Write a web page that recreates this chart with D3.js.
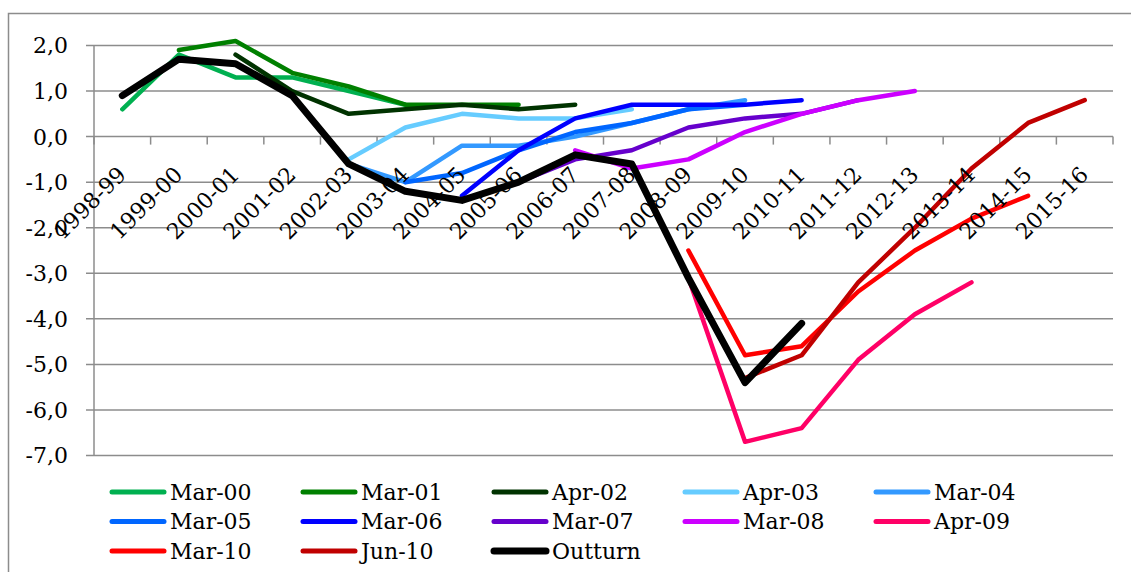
<!DOCTYPE html>
<html lang="en">
<head>
    <meta charset="UTF-8">
    <title>Forecasts vs outturn</title>
    <script src="https://d3js.org/d3.v7.min.js" charset="utf-8"></script>
    <style>
        body { margin: 0; background: white; }
        svg { font-family: 'DejaVu Serif', serif; }
    </style>
</head>
<body>
    <div id="chart"></div>
    <script>
        // x categories (fiscal years)
        var categories = ['1998-99', '1999-00', '2000-01', '2001-02', '2002-03', '2003-04', '2004-05', '2005-06', '2006-07',
            '2007-08', '2008-09', '2009-10', '2010-11', '2011-12', '2012-13', '2013-14', '2014-15', '2015-16'];
        var yTicks = [2, 1, 0, -1, -2, -3, -4, -5, -6, -7];

        // one array per forecast vintage, null where the vintage has no value
        var mar00 = [0.6, 1.8, 1.3, 1.3, 1.0, 0.7, null, null, null, null, null, null, null, null, null, null, null, null];
        var mar01 = [null, 1.9, 2.1, 1.4, 1.1, 0.7, 0.7, 0.7, null, null, null, null, null, null, null, null, null, null];
        var apr02 = [null, null, 1.8, 1.0, 0.5, 0.6, 0.7, 0.6, 0.7, null, null, null, null, null, null, null, null, null];
        var apr03 = [null, null, null, null, -0.5, 0.2, 0.5, 0.4, 0.4, 0.6, null, null, null, null, null, null, null, null];
        var mar04 = [null, null, null, null, -0.6, -1.0, -0.2, -0.2, 0.0, 0.3, 0.6, 0.8, null, null, null, null, null, null];
        var mar05 = [null, null, null, null, null, -1.0, -0.8, -0.3, 0.1, 0.3, 0.6, 0.7, null, null, null, null, null, null];
        var mar06 = [null, null, null, null, null, null, -1.3, -0.3, 0.4, 0.7, 0.7, 0.7, 0.8, null, null, null, null, null];
        var mar07 = [null, null, null, null, null, null, null, -1.0, -0.5, -0.3, 0.2, 0.4, 0.5, 0.8, null, null, null, null];
        var mar08 = [null, null, null, null, null, null, null, null, -0.3, -0.7, -0.5, 0.1, 0.5, 0.8, 1.0, null, null, null];
        var apr09 = [null, null, null, null, null, null, null, null, null, null, -3.1, -6.7, -6.4, -4.9, -3.9, -3.2, null, null];
        var mar10 = [null, null, null, null, null, null, null, null, null, null, -2.5, -4.8, -4.6, -3.4, -2.5, -1.8, -1.3, null];
        var jun10 = [null, null, null, null, null, null, null, null, null, null, null, -5.3, -4.8, -3.2, -2.0, -0.7, 0.3, 0.8];
        var outturn = [0.9, 1.7, 1.6, 0.9, -0.6, -1.2, -1.4, -1.0, -0.4, -0.6, -3.1, -5.4, -4.1, null, null, null, null, null];

        var seriesNames = ['Mar-00', 'Mar-01', 'Apr-02', 'Apr-03', 'Mar-04', 'Mar-05', 'Mar-06', 'Mar-07', 'Mar-08', 'Apr-09', 'Mar-10', 'Jun-10', 'Outturn'];
        var seriesValues = [mar00, mar01, apr02, apr03, mar04, mar05, mar06, mar07, mar08, apr09, mar10, jun10, outturn];
        var seriesColors = ['#00B050', '#008000', '#003300', '#66CCFF', '#3399FF', '#0066FF', '#0000FF', '#6600CC', '#CC00FF', '#FF0066', '#FF0000', '#C00000', '#000000'];

        var svgwidth = 1131;
        var svgheight = 572;
        // plot area edges (not "top": that name is taken by window.top)
        var plotLeft = 94, plotRight = 1113, plotTop = 45.5, plotBottom = 455.5;
        var gridColor = '#8c8c8c';

        var svg = d3.select('#chart').append('svg')
            .attr('width', svgwidth)
            .attr('height', svgheight);

        // outer chart border
        svg.append('rect')
            .attr('x', 8.5).attr('y', 13.5)
            .attr('width', svgwidth).attr('height', svgheight)
            .attr('fill', 'none')
            .attr('stroke', gridColor)
            .attr('stroke-width', 1.5);

        var x = d3.scaleBand().domain(categories).range([plotLeft, plotRight]).padding(0);
        var y = d3.scaleLinear().domain([-7, 2]).range([plotBottom, plotTop]);

        // horizontal gridlines + y ticks
        svg.append('g').selectAll('line')
            .data(yTicks)
            .enter().append('line')
            .attr('x1', plotLeft - 8).attr('x2', plotRight)
            .attr('y1', d => y(d)).attr('y2', d => y(d))
            .attr('stroke', gridColor)
            .attr('stroke-width', 1.5);

        // y axis line
        svg.append('line')
            .attr('x1', plotLeft).attr('x2', plotLeft)
            .attr('y1', plotTop).attr('y2', plotBottom)
            .attr('stroke', gridColor)
            .attr('stroke-width', 1.5);

        // y labels, decimal comma
        svg.append('g').selectAll('text')
            .data(yTicks)
            .enter().append('text')
            .attr('x', 68)
            .attr('y', d => y(d))
            .attr('dy', '0.36em')
            .attr('text-anchor', 'end')
            .style('font-size', '22px')
            .text(d => d3.format('.1f')(d).replace('.', ',').replace('−', '-'));

        // category ticks on the zero line
        var tickPos = categories.map(c => x(c)).concat([plotRight]);
        svg.append('g').selectAll('line')
            .data(tickPos)
            .enter().append('line')
            .attr('x1', d => d).attr('x2', d => d)
            .attr('y1', y(0)).attr('y2', y(0) + 8)
            .attr('stroke', gridColor)
            .attr('stroke-width', 1.5);

        // the lines
        var line = d3.line()
            .defined(d => d.v !== null)
            .x(d => x(d.c) + x.bandwidth() / 2)
            .y(d => y(d.v));

        seriesValues.forEach(function (vals, i) {
            var pts = vals.map((v, j) => ({ c: categories[j], v: v }));
            svg.append('path')
                .datum(pts)
                .attr('d', line)
                .attr('fill', 'none')
                .attr('stroke', seriesColors[i])
                .attr('stroke-width', seriesNames[i] === 'Outturn' ? 7 : 4.5)
                .attr('stroke-linejoin', 'round')
                .attr('stroke-linecap', 'round');
        });

        // rotated category labels (drawn over the lines, like the original)
        svg.append('g').selectAll('text')
            .data(categories)
            .enter().append('text')
            .attr('text-anchor', 'end')
            .attr('transform', d => 'translate(' + (x(d) + x.bandwidth() / 2 + 5) + ',' + 176 + ') rotate(-45)')
            .style('font-size', '22px')
            .text(d => d);

        // legend, 5 per row
        var legend = svg.append('g');
        var items = legend.selectAll('g')
            .data(seriesNames)
            .enter().append('g')
            .attr('transform', (d, i) => 'translate(' + (110 + (i % 5) * 191) + ',' + (492 + Math.floor(i / 5) * 29.5) + ')');

        items.append('line')
            .attr('x1', 2).attr('x2', 54)
            .attr('y1', 0).attr('y2', 0)
            .attr('stroke', (d, i) => seriesColors[i])
            .attr('stroke-width', d => d === 'Outturn' ? 7 : 5)
            .attr('stroke-linecap', 'round');

        items.append('text')
            .attr('x', 60)
            .attr('y', 0)
            .attr('dy', '0.36em')
            .style('font-size', '22px')
            .text(d => d);
    </script>
</body>
</html>
